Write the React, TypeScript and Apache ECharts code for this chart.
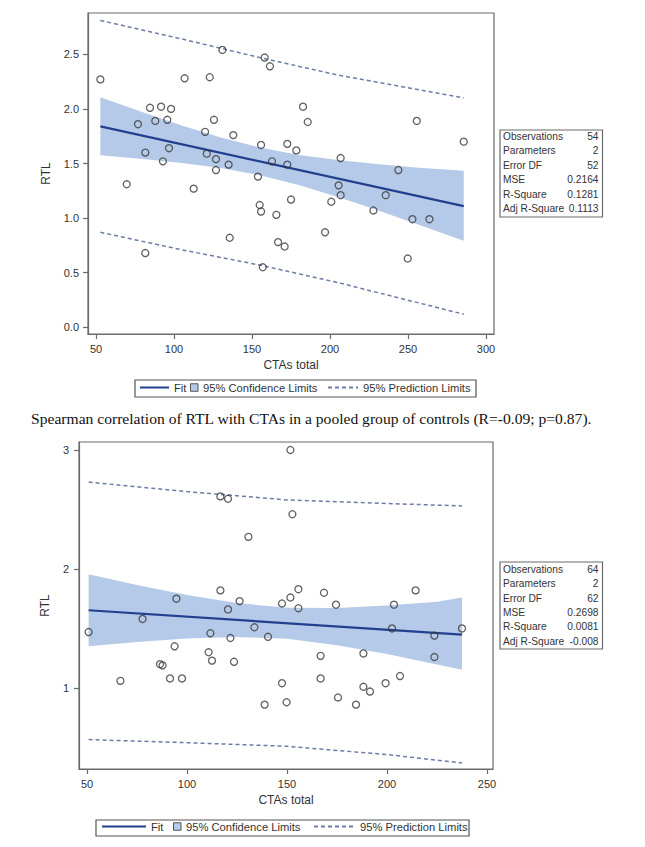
import React, { useEffect, useRef } from "react";
import * as echarts from "echarts";

// ---------- Chart 1 data ----------
const c1X = [52.8, 131, 158.1, 161.5, 106.8, 122.9, 84.6, 91.7, 98.1, 76.9, 88, 95.7, 125.6, 182.7, 185.7, 255.6, 285.7, 119.9, 138, 155.8, 172.6, 178.4, 206.8, 243.8, 81.6, 96.8, 92.9, 121, 126.9, 126.9, 135, 162.8, 172.6, 153.8, 69.7, 112.6, 154.9, 155.8, 165.6, 175, 205.5, 206.8, 200.8, 235.7, 227.8, 252.8, 263.7, 196.8, 135.7, 166.7, 170.9, 81.6, 156.9, 249.8];
const c1Y = [2.27, 2.54, 2.47, 2.39, 2.28, 2.29, 2.01, 2.02, 2.0, 1.86, 1.89, 1.9, 1.9, 2.02, 1.88, 1.89, 1.7, 1.79, 1.76, 1.67, 1.68, 1.62, 1.55, 1.44, 1.6, 1.64, 1.52, 1.59, 1.54, 1.44, 1.49, 1.52, 1.49, 1.38, 1.31, 1.27, 1.12, 1.06, 1.03, 1.17, 1.3, 1.21, 1.15, 1.21, 1.07, 0.99, 0.99, 0.87, 0.82, 0.78, 0.74, 0.68, 0.55, 0.63];
const c1FitX = [52.8, 285.7];
const c1FitY = [1.84, 1.11];
const c1CiX = [52.8, 80, 105, 130, 155, 180, 205, 230, 255, 285.7];
const c1CiHi = [2.106, 1.969, 1.847, 1.738, 1.647, 1.579, 1.532, 1.495, 1.464, 1.434];
const c1CiLo = [1.575, 1.542, 1.505, 1.458, 1.393, 1.303, 1.194, 1.075, 0.948, 0.793];
const c1PiX = [52.8, 105, 155, 205, 285.7];
const c1PiHi = [2.81, 2.64, 2.47, 2.31, 2.1];
const c1PiLo = [0.87, 0.71, 0.57, 0.41, 0.12];
const c1XTicks = [50, 100, 150, 200, 250, 300];
const c1YTicks = [0, 0.5, 1, 1.5, 2, 2.5];

// ---------- Chart 2 data ----------
const c2X = [151.7, 116.7, 120.5, 152.7, 130.7, 116.7, 155.7, 168.5, 214.3, 94.7, 126.3, 151.7, 147.5, 155.7, 174.5, 203.5, 120.5, 77.8, 50.8, 133.7, 111.7, 121.7, 140.5, 202.5, 223.7, 237.5, 93.8, 110.8, 112.5, 123.5, 86.5, 87.8, 166.8, 188.2, 223.7, 66.7, 91.5, 97.5, 166.8, 206.5, 147.5, 199.3, 188.2, 191.5, 175.5, 138.8, 149.8, 184.5];
const c2Y = [3.0, 2.61, 2.59, 2.46, 2.27, 1.82, 1.83, 1.8, 1.82, 1.75, 1.73, 1.76, 1.71, 1.67, 1.7, 1.7, 1.66, 1.58, 1.47, 1.51, 1.46, 1.42, 1.43, 1.5, 1.44, 1.5, 1.35, 1.3, 1.23, 1.22, 1.2, 1.19, 1.27, 1.29, 1.26, 1.06, 1.08, 1.08, 1.08, 1.1, 1.04, 1.04, 1.01, 0.97, 0.92, 0.86, 0.88, 0.86];
const c2FitX = [50.8, 237.5];
const c2FitY = [1.653, 1.448];
const c2CiX = [50.8, 75, 100, 125, 150, 175, 200, 225, 237.5];
const c2CiHi = [1.955, 1.865, 1.782, 1.713, 1.675, 1.672, 1.693, 1.725, 1.76];
const c2CiLo = [1.35, 1.387, 1.416, 1.429, 1.413, 1.36, 1.285, 1.197, 1.154];
const c2PiX = [50.8, 100, 150, 200, 237.5];
const c2PiHi = [2.73, 2.65, 2.58, 2.55, 2.53];
const c2PiLo = [0.566, 0.54, 0.51, 0.44, 0.37];
const c2XTicks = [50, 100, 150, 200, 250];
const c2YTicks = [1, 2, 3];

// ---------- Text ----------
const statLabels = ["Observations", "Parameters", "Error DF", "MSE", "R-Square", "Adj R-Square"];
const stats1 = ["54", "2", "52", "0.2164", "0.1281", "0.1113"];
const stats2 = ["64", "2", "62", "0.2698", "0.0081", "-0.008"];
const caption = "Spearman correlation of RTL with CTAs in a pooled group of controls (R=-0.09; p=0.87).";
const xTitle = "CTAs total";
const yTitle = "RTL";
const nFit = "Fit";
const nCI = "95% Confidence Limits";
const nPI = "95% Prediction Limits";

const FONT = "Liberation Sans, Arial, sans-serif";
const FRAME = "#6a6a6a";
const TXT = "#333333";
const BAND = "#b5cae8";
const FITC = "#213f8e";
const PIC = "#6d7ca6";

const pairs = (xs: number[], ys: number[]) => xs.map((x, i) => [x, ys[i]]);

function bandSeries(xs: number[], lo: number[], hi: number[], idx: number) {
  return {
    type: "custom",
    name: nCI,
    xAxisIndex: idx,
    yAxisIndex: idx,
    silent: true,
    z: 1,
    itemStyle: { color: BAND },
    data: xs.map((x, i) => [x, lo[i], hi[i]]),
    encode: { x: 0, y: [1, 2] },
    renderItem: (params: any, api: any) => {
      if (params.dataIndex !== 0) return null;
      const top = xs.map((x, i) => api.coord([x, hi[i]]));
      const bot = xs.map((x, i) => api.coord([x, lo[i]])).reverse();
      return { type: "polygon", shape: { points: top.concat(bot) }, style: { fill: BAND } };
    },
  };
}

function lineSeries(name: string, xs: number[], ys: number[], idx: number, dashed: boolean) {
  return {
    type: "line",
    name,
    xAxisIndex: idx,
    yAxisIndex: idx,
    data: pairs(xs, ys),
    symbol: "none",
    showSymbol: false,
    silent: true,
    z: dashed ? 3 : 4,
    lineStyle: dashed
      ? { color: PIC, width: 1.5, type: [4, 3] }
      : { color: FITC, width: 2.2 },
    itemStyle: { color: dashed ? PIC : FITC },
  };
}

function scatterSeries(xs: number[], ys: number[], idx: number) {
  return {
    type: "scatter",
    name: "RTL",
    xAxisIndex: idx,
    yAxisIndex: idx,
    data: pairs(xs, ys),
    symbol: "circle",
    symbolSize: 7,
    z: 5,
    itemStyle: { color: "rgba(0,0,0,0)", borderColor: "#3a3a3a", borderWidth: 1.3 },
  };
}

function xAxisCfg(idx: number, min: number, max: number, ticks: number[], gap: number) {
  return {
    type: "value",
    gridIndex: idx,
    min,
    max,
    name: xTitle,
    nameLocation: "middle",
    nameGap: gap,
    nameTextStyle: { color: TXT, fontSize: 12, fontFamily: FONT },
    axisLine: { show: true, onZero: false, lineStyle: { color: FRAME, width: 1.2 } },
    axisTick: { show: true, length: 5, customValues: ticks, lineStyle: { color: FRAME, width: 1.2 } },
    axisLabel: { customValues: ticks, color: TXT, fontSize: 11, fontFamily: FONT, margin: 9 },
    splitLine: { show: false },
  };
}

function yAxisCfg(idx: number, min: number, max: number, ticks: number[], gap: number, margin: number, dec: number) {
  return {
    type: "value",
    gridIndex: idx,
    min,
    max,
    name: yTitle,
    nameLocation: "middle",
    nameGap: gap,
    nameTextStyle: { color: TXT, fontSize: 12, fontFamily: FONT },
    axisLine: { show: true, onZero: false, lineStyle: { color: FRAME, width: 1.2 } },
    axisTick: { show: true, length: 5, customValues: ticks, lineStyle: { color: FRAME, width: 1.2 } },
    axisLabel: {
      customValues: ticks,
      color: TXT,
      fontSize: 11,
      fontFamily: FONT,
      margin,
      formatter: (v: number) => v.toFixed(dec),
    },
    splitLine: { show: false },
  };
}

function legendItem(name: string, left: number, top: number, w: number, h: number, extra: any = {}) {
  return {
    data: [{ name, ...extra }],
    left,
    top,
    padding: 0,
    itemGap: 0,
    itemWidth: w,
    itemHeight: h,
    selectedMode: false,
    textStyle: { color: TXT, fontSize: 11.2, fontFamily: FONT },
  };
}

function statsGraphics(x: number, top: number, bottom: number, firstRow: number, step: number, values: string[]) {
  const els: any[] = [
    {
      type: "rect",
      shape: { x, y: top, width: 102.5, height: bottom - top },
      style: { fill: "#fff", stroke: FRAME, lineWidth: 1.2 },
    },
  ];
  statLabels.forEach((lab, i) => {
    els.push({
      type: "text",
      x: x + 3,
      y: firstRow + i * step,
      style: { text: lab, fill: TXT, fontSize: 10.2, fontFamily: FONT, align: "left", verticalAlign: "middle" },
    });
    els.push({
      type: "text",
      x: x + 98.5,
      y: firstRow + i * step,
      style: { text: values[i], fill: TXT, fontSize: 10.2, fontFamily: FONT, align: "right", verticalAlign: "middle" },
    });
  });
  return els;
}

function legendBox(x: number, y: number, w: number, h: number) {
  return {
    type: "rect",
    shape: { x, y, width: w, height: h },
    style: { fill: "none", stroke: "#555", lineWidth: 1.2 },
  };
}

export default function App() {
  const ref = useRef<HTMLDivElement>(null);
  useEffect(() => {
    if (!ref.current) return;
    const chart = echarts.init(ref.current, undefined, { renderer: "svg" });
    const ciIcon = { icon: "rect", itemStyle: { color: BAND, borderColor: "#555", borderWidth: 1 } };
    const lineIcon = { itemStyle: { opacity: 0 } };
    chart.setOption({
      animation: false,
      backgroundColor: "#fff",
      grid: [
        { left: 88, top: 13, width: 406, height: 321, show: true, borderColor: FRAME, borderWidth: 1.2, backgroundColor: "transparent" },
        { left: 79, top: 442, width: 414, height: 327, show: true, borderColor: FRAME, borderWidth: 1.2, backgroundColor: "transparent" },
      ],
      xAxis: [
        xAxisCfg(0, 44.87, 305.1, c1XTicks, 25),
        xAxisCfg(1, 46, 253, c2XTicks, 25),
      ],
      yAxis: [
        yAxisCfg(0, -0.061, 2.878, c1YTicks, 36, 9, 1),
        yAxisCfg(1, 0.319, 3.067, c2YTicks, 28, 10, 0),
      ],
      legend: [
        legendItem(nFit, 139, 382, 29, 1, lineIcon),
        legendItem(nCI, 190, 382, 7.5, 7.5, ciIcon),
        legendItem(nPI, 327, 382, 30, 1, lineIcon),
        legendItem(nFit, 101, 821, 44, 1, lineIcon),
        legendItem(nCI, 173, 821, 7.5, 7.5, ciIcon),
        legendItem(nPI, 313, 821, 41, 1, lineIcon),
      ],
      graphic: [
        ...statsGraphics(500, 130, 217, 136.5, 14.4, stats1),
        ...statsGraphics(500, 562, 649, 569.3, 14.4, stats2),
        legendBox(135, 380, 341, 17),
        legendBox(96, 820, 373, 16),
        {
          type: "text",
          x: 31,
          y: 418,
          style: { text: caption, fill: "#111", fontSize: 15.6, fontFamily: "Liberation Serif, Times New Roman, serif", align: "left", verticalAlign: "middle" },
        },
      ],
      series: [
        bandSeries(c1CiX, c1CiLo, c1CiHi, 0),
        lineSeries(nPI, c1PiX, c1PiHi, 0, true),
        lineSeries(nPI, c1PiX, c1PiLo, 0, true),
        lineSeries(nFit, c1FitX, c1FitY, 0, false),
        scatterSeries(c1X, c1Y, 0),
        bandSeries(c2CiX, c2CiLo, c2CiHi, 1),
        lineSeries(nPI, c2PiX, c2PiHi, 1, true),
        lineSeries(nPI, c2PiX, c2PiLo, 1, true),
        lineSeries(nFit, c2FitX, c2FitY, 1, false),
        scatterSeries(c2X, c2Y, 1),
      ],
    });
    return () => chart.dispose();
  }, []);
  return <div ref={ref} style={{ position: "absolute", left: 0, top: 0, width: 645, height: 847 }} />;
}
